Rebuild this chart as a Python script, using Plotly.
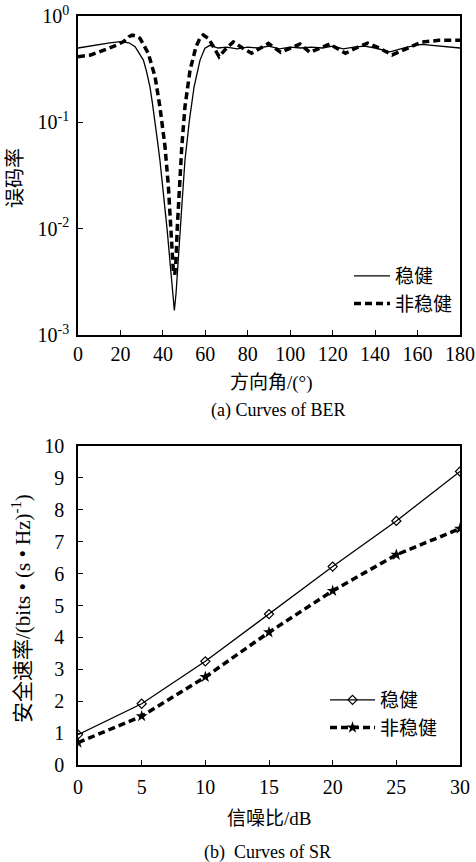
import plotly.graph_objects as go

# ---------- data: (a) BER vs direction angle ----------
ber_robust_x = [0, 5, 10, 15, 20, 24, 26.9, 28.5, 30.8, 32.3, 33.9, 35, 36.3, 37.4, 38.6, 39.8, 41.0, 42.0,
                43.0, 44.6, 45.4, 46.2, 47.3, 48.9, 50.4, 52.5, 54.7, 57.5, 59.8, 62.2, 66, 70, 75, 80, 85,
                90, 95, 100, 105, 110, 115, 120, 125, 130, 135, 140, 147, 155, 162, 170, 180]
ber_robust_y = [0.50, 0.52, 0.54, 0.56, 0.575, 0.56, 0.514, 0.46, 0.385, 0.30, 0.216, 0.155, 0.105, 0.068,
                0.044, 0.027, 0.0161, 0.0098, 0.00586, 0.00247, 0.0017, 0.00247, 0.00586, 0.0161, 0.044,
                0.105, 0.216, 0.385, 0.497, 0.53, 0.50, 0.51, 0.49, 0.51, 0.50, 0.52, 0.49, 0.51, 0.50,
                0.51, 0.50, 0.52, 0.49, 0.51, 0.52, 0.50, 0.46, 0.51, 0.54, 0.52, 0.50]

ber_nonrobust_x = [0, 3, 6, 10, 14, 18, 21.5, 24, 25.5, 27, 29.2, 31, 33.1, 36.3, 38.6, 41, 42.6, 43.7,
                   44.9, 45.6, 46.2, 46.8, 47.7, 48.9, 50.4, 52.8, 55.6, 57.5, 59, 61.4, 63.8, 66.5, 70,
                   73.2, 77.5, 81.8, 86, 89.7, 95.5, 100, 104.6, 109.3, 114, 118.5, 126, 131, 136.5, 142,
                   148, 155, 162, 170, 180]
ber_nonrobust_y = [0.414, 0.42, 0.43, 0.46, 0.49, 0.53, 0.575, 0.64, 0.66, 0.65, 0.617, 0.54, 0.446, 0.269,
                   0.140, 0.059, 0.0248, 0.0104, 0.0041, 0.0037, 0.0051, 0.0104, 0.0248, 0.059, 0.140, 0.31,
                   0.514, 0.62, 0.663, 0.617, 0.514, 0.414, 0.50, 0.57, 0.50, 0.446, 0.50, 0.553, 0.455,
                   0.50, 0.545, 0.455, 0.50, 0.545, 0.446, 0.50, 0.555, 0.50, 0.43, 0.50, 0.57, 0.59, 0.59]

ber_tickvals = [1, 0.1, 0.01, 0.001]
ber_ticktext = ["10<sup>0</sup>", "10<sup>-1</sup>", "10<sup>-2</sup>", "10<sup>-3</sup>"]

# ---------- data: (b) secrecy rate vs SNR ----------
snr_db = [0, 5, 10, 15, 20, 25, 30]
sr_robust = [0.95, 1.92, 3.25, 4.73, 6.22, 7.65, 9.2]
sr_nonrobust = [0.70, 1.53, 2.76, 4.16, 5.46, 6.59, 7.41]

series_names = ["稳健", "非稳健"]

W, H = 476, 862
FONT = "Liberation Serif, Noto Sans CJK SC, serif"

def px(x):
    return x / W

def py(y):
    return 1 - y / H

fig = go.Figure()

fig.add_trace(go.Scatter(x=ber_robust_x, y=ber_robust_y, mode="lines", name=series_names[0],
                         line=dict(color="black", width=1.3), xaxis="x", yaxis="y", legend="legend"))
fig.add_trace(go.Scatter(x=ber_nonrobust_x, y=ber_nonrobust_y, mode="lines", name=series_names[1],
                         line=dict(color="black", width=3.5, dash="7px,4px"), xaxis="x", yaxis="y",
                         legend="legend"))

fig.add_trace(go.Scatter(x=snr_db, y=sr_robust, mode="lines+markers", name=series_names[0],
                         line=dict(color="black", width=1.3),
                         marker=dict(symbol="diamond-open", size=7, color="black", line=dict(width=1.2)),
                         xaxis="x2", yaxis="y2", legend="legend2"))
fig.add_trace(go.Scatter(x=snr_db, y=sr_nonrobust, mode="lines+markers", name=series_names[1],
                         line=dict(color="black", width=3.5, dash="7px,4px"),
                         marker=dict(symbol="star", size=9, color="black"),
                         xaxis="x2", yaxis="y2", legend="legend2"))

axis_common = dict(showline=True, linecolor="black", linewidth=1.5, mirror=True, ticks="inside",
                   ticklen=5, tickwidth=1.2, tickcolor="black", showgrid=False, zeroline=False,
                   automargin=False,
                   tickfont=dict(family=FONT, size=20, color="black"))

xdom = [px(78), px(460)]

fig.update_layout(
    width=W, height=H, margin=dict(l=0, r=0, t=0, b=0, autoexpand=False),
    paper_bgcolor="white", plot_bgcolor="white",
    font=dict(family=FONT, color="black"),
    xaxis=dict(domain=xdom, anchor="y", range=[0, 180], tickmode="array",
               tickvals=list(range(0, 181, 20)), ticklabelstandoff=0, **axis_common),
    yaxis=dict(domain=[py(335), py(16)], anchor="x", type="log", range=[-3, 0], tickmode="array",
               tickvals=ber_tickvals, ticktext=ber_ticktext, ticklabelstandoff=3, **axis_common),
    xaxis2=dict(domain=xdom, anchor="y2", range=[0, 30], tickmode="array",
                tickvals=snr_db, ticklabelstandoff=3, **axis_common),
    yaxis2=dict(domain=[py(765), py(446)], anchor="x2", range=[0, 10], tickmode="array",
                tickvals=list(range(0, 11)), ticklabelstandoff=8, **axis_common),
    legend=dict(x=px(349), y=py(257), xanchor="left", yanchor="top", bgcolor="rgba(0,0,0,0)",
                itemwidth=36,
                font=dict(family=FONT, size=19, color="black"), tracegroupgap=0),
    legend2=dict(x=px(325), y=py(681), xanchor="left", yanchor="top", bgcolor="rgba(0,0,0,0)",
                 itemwidth=45,
                 font=dict(family=FONT, size=19, color="black"), tracegroupgap=0),
    showlegend=True,
)

annotations = [
    dict(text="误码率", x=px(15), y=py(178), textangle=-90, font=dict(family=FONT, size=20)),
    dict(text="方向角/(°)", x=px(271), y=py(383), font=dict(family=FONT, size=19)),
    dict(text="(a) Curves of BER", x=px(278), y=py(410), font=dict(family=FONT, size=18)),
    dict(text="安全速率/(bits • (s • Hz)<sup>-1</sup>)", x=px(21), y=py(609), textangle=-90,
         font=dict(family=FONT, size=21)),
    dict(text="信噪比/dB", x=px(269), y=py(818), font=dict(family=FONT, size=19)),
    dict(text="(b)  Curves of SR", x=px(267), y=py(852), font=dict(family=FONT, size=18)),
]
for a in annotations:
    a.update(xref="paper", yref="paper", showarrow=False, xanchor="center", yanchor="middle")
fig.update_layout(annotations=annotations)

fig.write_html("out.html")
